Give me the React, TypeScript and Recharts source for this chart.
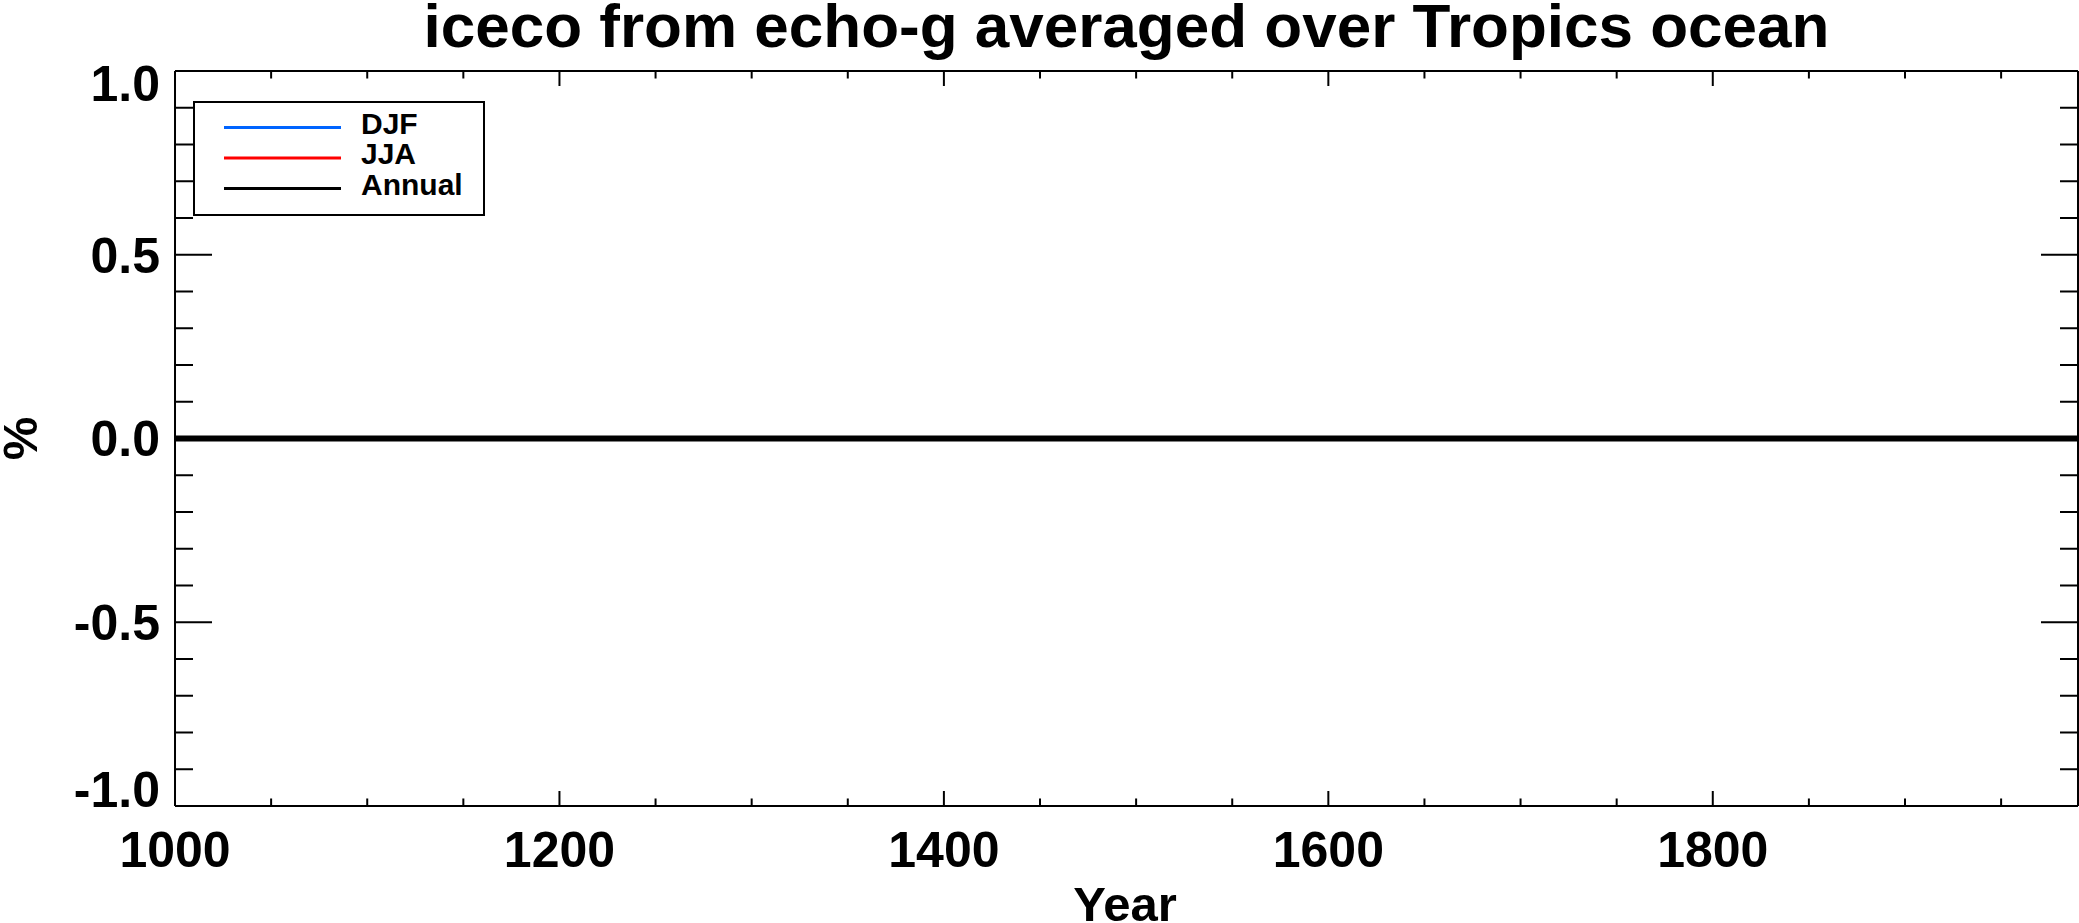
import React from 'react';
import { LineChart, Line, XAxis, YAxis, Legend } from 'recharts';

const years = [1000, 1100, 1200, 1300, 1400, 1500, 1600, 1700, 1800, 1900, 1990];
const djf = [0, 0, 0, 0, 0, 0, 0, 0, 0, 0, 0];
const jja = [0, 0, 0, 0, 0, 0, 0, 0, 0, 0, 0];
const annual = [0, 0, 0, 0, 0, 0, 0, 0, 0, 0, 0];

const seriesNames = ['DJF', 'JJA', 'Annual'];
const xDomain = [1000, 1990];
const yDomain = [-1, 1];
const xMajorTicks = [1000, 1200, 1400, 1600, 1800];
const xMinorTicks = [1050, 1100, 1150, 1250, 1300, 1350, 1450, 1500, 1550, 1650, 1700, 1750, 1850, 1900, 1950];
const yMajorTicks = [-1, -0.5, 0, 0.5, 1];
const yMinorTicks = [-0.9, -0.8, -0.7, -0.6, -0.4, -0.3, -0.2, -0.1, 0.1, 0.2, 0.3, 0.4, 0.6, 0.7, 0.8, 0.9];

const title = 'iceco from echo-g averaged over Tropics ocean';
const xTitle = 'Year';
const yTitle = '%';

const data = years.map((y, i) => ({ year: y, djf: djf[i], jja: jja[i], annual: annual[i] }));

const FONT = '"Liberation Sans", Arial, Helvetica, sans-serif';
const W = 2079;
const H = 923;
const TINY = 0.01;

const Empty = () => <g />;

const YTick = (props: any) => {
  const { x, y, payload } = props;
  const v = Number(payload.value);
  let dy = 18;
  if (v === yDomain[1]) dy = 30;
  if (v === yDomain[0]) dy = 1;
  return (
    <text x={x} y={y + dy} textAnchor="end" fontFamily={FONT} fontWeight="bold" fontSize={50} fill="#000">
      {v.toFixed(1)}
    </text>
  );
};

const XTick = (props: any) => {
  const { x, y, payload } = props;
  return (
    <text x={x} y={y + 61} textAnchor="middle" fontFamily={FONT} fontWeight="bold" fontSize={50} fill="#000">
      {String(payload.value)}
    </text>
  );
};

const renderLegend = (props: any) => {
  const payload = [...(props.payload || [])].sort(
    (a: any, b: any) => seriesNames.indexOf(a.value) - seriesNames.indexOf(b.value)
  );
  return (
    <svg width={292} height={115} style={{ display: 'block' }}>
      <rect x={1} y={1} width={290} height={113} fill="#fff" stroke="#000" strokeWidth={2} />
      {payload.map((entry: any, i: number) => (
        <g key={entry.value}>
          <line x1={31} x2={148} y1={26.5 + 30.5 * i} y2={26.5 + 30.5 * i} stroke={entry.color} strokeWidth={3} />
          <text x={168} y={32.5 + 30.5 * i} fontFamily={FONT} fontWeight="bold" fontSize={30} fill="#000">
            {entry.value}
          </text>
        </g>
      ))}
    </svg>
  );
};

const axisStroke = { stroke: '#000', strokeWidth: 2 };

export default function App() {
  return (
    <div style={{ position: 'absolute', left: 0, top: 0, width: W, height: H, background: '#fff' }}>
      <LineChart width={W} height={H} data={data} margin={{ top: 71, right: 1, bottom: 117, left: 175 }}>
        {/* bottom axes */}
        <XAxis xAxisId="x" dataKey="year" type="number" domain={xDomain} ticks={xMajorTicks} interval={0}
          orientation="bottom" mirror height={TINY} tickSize={15} tickLine={axisStroke} axisLine={axisStroke} tick={Empty} />
        <XAxis xAxisId="xMinor" dataKey="year" type="number" domain={xDomain} ticks={xMinorTicks} interval={0}
          orientation="bottom" mirror height={TINY} tickSize={7.5} tickLine={axisStroke} axisLine={false} tick={Empty} />
        <XAxis xAxisId="xLabels" dataKey="year" type="number" domain={xDomain} ticks={xMajorTicks} interval={0}
          orientation="bottom" height={TINY} tickSize={0} tickMargin={0} tickLine={false} axisLine={false} tick={XTick} />
        {/* top axes */}
        <XAxis xAxisId="top" dataKey="year" type="number" domain={xDomain} ticks={xMajorTicks} interval={0}
          orientation="top" mirror height={TINY} tickSize={15} tickLine={axisStroke} axisLine={axisStroke} tick={Empty} />
        <XAxis xAxisId="topMinor" dataKey="year" type="number" domain={xDomain} ticks={xMinorTicks} interval={0}
          orientation="top" mirror height={TINY} tickSize={7.5} tickLine={axisStroke} axisLine={false} tick={Empty} />
        {/* left axes */}
        <YAxis yAxisId="y" dataKey="annual" type="number" domain={yDomain} ticks={yMajorTicks} interval={0}
          orientation="left" mirror width={TINY} tickSize={37} tickLine={axisStroke} axisLine={axisStroke} tick={Empty} />
        <YAxis yAxisId="yMinor" dataKey="annual" type="number" domain={yDomain} ticks={yMinorTicks} interval={0}
          orientation="left" mirror width={TINY} tickSize={18} tickLine={axisStroke} axisLine={false} tick={Empty} />
        <YAxis yAxisId="yLabels" dataKey="annual" type="number" domain={yDomain} ticks={yMajorTicks} interval={0}
          orientation="left" width={TINY} tickSize={0} tickMargin={15} tickLine={false} axisLine={false} tick={YTick} />
        {/* right axes */}
        <YAxis yAxisId="right" dataKey="annual" type="number" domain={yDomain} ticks={yMajorTicks} interval={0}
          orientation="right" mirror width={TINY} tickSize={37} tickLine={axisStroke} axisLine={axisStroke} tick={Empty} />
        <YAxis yAxisId="rightMinor" dataKey="annual" type="number" domain={yDomain} ticks={yMinorTicks} interval={0}
          orientation="right" mirror width={TINY} tickSize={18} tickLine={axisStroke} axisLine={false} tick={Empty} />

        <Legend layout="horizontal" verticalAlign="middle" align="center" content={renderLegend}
          wrapperStyle={{ left: 193, top: 101, width: 292, height: 115, margin: 0, padding: 0 }} />

        <Line xAxisId="x" yAxisId="y" type="linear" dataKey="djf" name="DJF" stroke="#0064ff" strokeWidth={3} dot={false} isAnimationActive={false} />
        <Line xAxisId="x" yAxisId="y" type="linear" dataKey="jja" name="JJA" stroke="#ff0000" strokeWidth={3} dot={false} isAnimationActive={false} />
        <Line xAxisId="x" yAxisId="y" type="linear" dataKey="annual" name="Annual" stroke="#000000" strokeWidth={6} dot={false} isAnimationActive={false} />
      </LineChart>
      <svg width={W} height={H} style={{ position: 'absolute', left: 0, top: 0, pointerEvents: 'none' }}>
        <text x={1126.5} y={47} textAnchor="middle" fontFamily={FONT} fontWeight="bold" fontSize={62} fill="#000">{title}</text>
        <text x={1125} y={921} textAnchor="middle" fontFamily={FONT} fontWeight="bold" fontSize={49} fill="#000">{xTitle}</text>
        <text x={37} y={438.5} textAnchor="middle" fontFamily={FONT} fontWeight="bold" fontSize={49} fill="#000"
          transform="rotate(-90, 37, 438.5)">{yTitle}</text>
      </svg>
    </div>
  );
}
